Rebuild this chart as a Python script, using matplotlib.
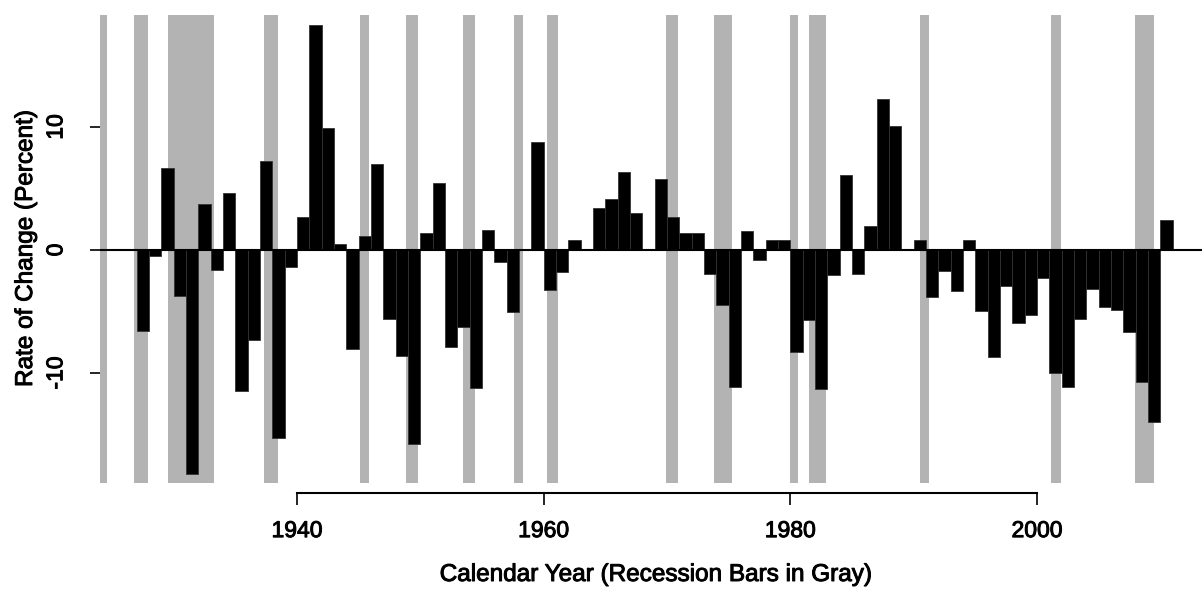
import matplotlib
matplotlib.use("Agg")
import matplotlib.pyplot as plt
import matplotlib.patheffects as pe

plt.rcParams['font.family'] = ['Liberation Sans', 'DejaVu Sans']
# slightly heavier strokes on all text
plt.rcParams['path.effects'] = []
heavy = [pe.withStroke(linewidth=0.7, foreground='black')]

# annual rate of change, bar spans [year, year+1]
years = list(range(1927, 2011))
rates = [-6.6, -0.5, 6.7, -3.7, -18.2, 3.7, -1.6, 4.65, -11.5, -7.35,
         7.25, -15.3, -1.35, 2.7, 18.3, 9.95, 0.5, -8.05, 1.1, 7.0,
         -5.6, -8.6, -15.75, 1.4, 5.45, -7.9, -6.3, -11.25, 1.65, -0.95,
         -5.05, 0.05, 8.8, -3.25, -1.75, 0.85, 0.0, 3.4, 4.15, 6.3,
         3.0, 0.0, 5.8, 2.7, 1.35, 1.35, -1.95, -4.5, -11.1, 1.55,
         -0.8, 0.8, 0.8, -8.3, -5.7, -11.3, -2.05, 6.1, -1.95, 1.95,
         12.3, 10.1, 0.0, 0.8, -3.8, -1.7, -3.3, 0.8, -4.95, -8.7,
         -2.9, -5.9, -5.25, -2.3, -10.0, -11.15, -5.6, -3.15, -4.65, -4.85,
         -6.7, -10.7, -14.0, 2.4]

# NBER recessions: (peak year, peak month, trough year, trough month)
recessions = [(1923, 5, 1924, 7), (1926, 10, 1927, 11), (1929, 8, 1933, 3),
              (1937, 5, 1938, 6), (1945, 2, 1945, 10), (1948, 11, 1949, 10),
              (1953, 7, 1954, 5), (1957, 8, 1958, 4), (1960, 4, 1961, 2),
              (1969, 12, 1970, 11), (1973, 11, 1975, 3), (1980, 1, 1980, 7),
              (1981, 7, 1982, 11), (1990, 7, 1991, 3), (2001, 3, 2001, 11),
              (2007, 12, 2009, 6)]

xticks = [1940, 1960, 1980, 2000]
yticks = [-10, 0, 10]

W, H = 1202, 589
fig = plt.figure(figsize=(W / 100, H / 100), dpi=100)
ax = fig.add_axes([100 / W, (H - 483) / H, 1102 / W, 468 / H])

for y0, m0, y1, m1 in recessions:
    ax.axvspan(y0 + (m0 - 1) / 12, y1 + m1 / 12, color='#b3b3b3', lw=0, zorder=1)

ax.bar(years, rates, width=1, align='edge', color='black',
       edgecolor='#333333', linewidth=0.6, zorder=2)
ax.axhline(0, color='black', lw=1.5, zorder=3)

ax.set_xlim(1924.03, 2013.38)
ax.set_ylim(-18.94, 19.1)

for s in ['top', 'right', 'left']:
    ax.spines[s].set_visible(False)
ax.spines['bottom'].set_position(('outward', 7.5))
ax.spines['bottom'].set_bounds(1940, 2000)
ax.spines['bottom'].set_linewidth(1.5)

ax.set_xticks(xticks)
ax.set_xticklabels([str(t) for t in xticks], fontsize=16.5)
ax.tick_params(axis='x', length=8.5, width=1.2, pad=10)
ax.set_yticks(yticks)
ax.set_yticklabels([str(t) for t in yticks], fontsize=16.5, rotation=90, va='center')
ax.tick_params(axis='y', length=7.5, width=1.2, pad=16)
for lab in ax.get_xticklabels() + ax.get_yticklabels():
    lab.set_path_effects(heavy)

fig.text(655 / W, 1 - 575 / H, 'Calendar Year (Recession Bars in Gray)',
         fontsize=17.5, ha='center', va='center', path_effects=heavy)
fig.text(26 / W, 1 - 249 / H, 'Rate of Change (Percent)', fontsize=17.5,
         rotation=90, ha='center', va='center', path_effects=heavy)

fig.savefig('out.png', dpi=100)
